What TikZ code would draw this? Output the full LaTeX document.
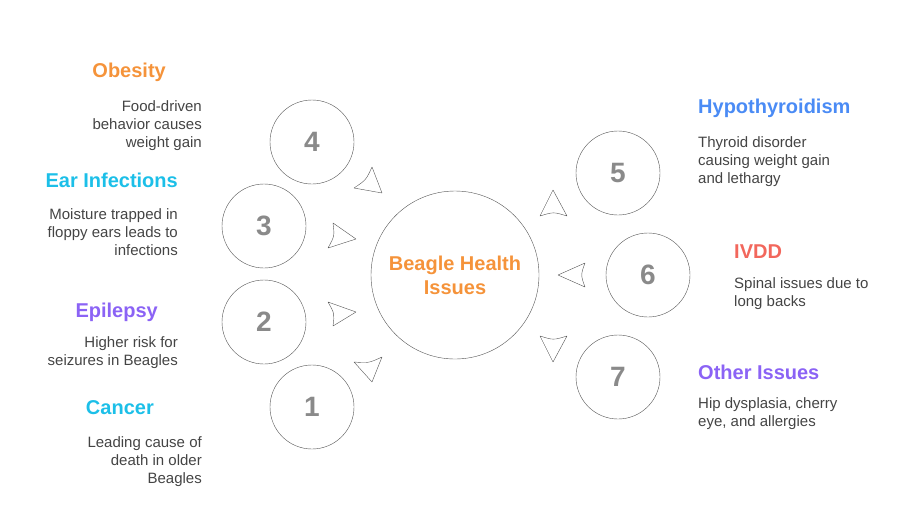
\documentclass[tikz,border=0pt]{standalone}
\usepackage{fontspec}
\setmainfont{Liberation Sans}
\usetikzlibrary{calc}
\definecolor{obesecolor}{HTML}{F5933A}
\definecolor{earcolor}{HTML}{1CBFE8}
\definecolor{epicolor}{HTML}{8B63F5}
\definecolor{thycolor}{HTML}{4A8BF5}
\definecolor{ivddcolor}{HTML}{F2675C}
\definecolor{linecolor}{HTML}{555555}
\definecolor{numcolor}{HTML}{8A8A8A}
\definecolor{bodycolor}{HTML}{444444}

\begin{document}
\begin{tikzpicture}[
    x=1pt, y=-1pt,
    hub/.style={draw=linecolor, circle, minimum size=168pt, inner sep=0pt, align=center, font=\bfseries\fontsize{20}{24}\selectfont, text=obesecolor},
    numbox/.style={draw=linecolor, circle, minimum size=84pt, inner sep=0pt, font=\bfseries\fontsize{28}{30}\selectfont, text=numcolor},
    title/.style={font=\bfseries\fontsize{20}{22}\selectfont, inner sep=0pt},
    body/.style={font=\fontsize{15}{18}\selectfont, text=bodycolor, inner sep=0pt},
    tip/.style={draw=linecolor, line join=round}
]
    \useasboundingbox (0,0) rectangle (912,528);
    \node[hub] (hub) at (455,275) {Beagle Health\\Issues};

    \node[numbox] (n4) at (312,142) {4};
    \node[numbox] (n3) at (264,226) {3};
    \node[numbox] (n2) at (264,322) {2};
    \node[numbox] (n1) at (312,407) {1};
    \node[numbox] (n5) at (618,173) {5};
    \node[numbox] (n6) at (648,275) {6};
    \node[numbox] (n7) at (618,377) {7};

    % arrow heads: base corner, base corner, tip
    \foreach \ax/\ay/\bx/\by/\tx/\ty in {354/188/372/167/382/193, 333/223/328/248/356/239,
        328/302/333/326/356/312, 354/362/382/357/372/382,
        540/216/567/216/553/190, 585/263/585/287/558/275, 540/336/567/336/553/362}
        \draw[tip] (\ax,\ay) .. controls ($($(\ax,\ay)!0.5!(\bx,\by)$)!0.16!(\tx,\ty)$) .. (\bx,\by) -- (\tx,\ty) -- cycle;

    % left texts
    \node[title, text=obesecolor, anchor=east] (tob) at (166,72) {Obesity};
    \node[body, anchor=north east, align=right] (bob) at (202,100) {Food-driven\\behavior causes\\weight gain};
    \node[title, text=earcolor, anchor=east] (tear) at (178,180) {Ear Infections};
    \node[body, anchor=north east, align=right] (bear) at (178,208) {Moisture trapped in\\floppy ears leads to\\infections};
    \node[title, text=epicolor, anchor=east] (tepi) at (158,312) {Epilepsy};
    \node[body, anchor=north east, align=right] (bepi) at (178,336) {Higher risk for\\seizures in Beagles};
    \node[title, text=earcolor, anchor=east] (tcan) at (154,408) {Cancer};
    \node[body, anchor=north east, align=right] (bcan) at (202,436) {Leading cause of\\death in older\\Beagles};

    % right texts
    \node[title, text=thycolor, anchor=west] (tthy) at (698,108) {Hypothyroidism};
    \node[body, anchor=north west, align=left] (bthy) at (698,136) {Thyroid disorder\\causing weight gain\\and lethargy};
    \node[title, text=ivddcolor, anchor=west] (tivdd) at (734,252) {IVDD};
    \node[body, anchor=north west, align=left] (bivdd) at (734,277) {Spinal issues due to\\long backs};
    \node[title, text=epicolor, anchor=west] (toth) at (698,372) {Other Issues};
    \node[body, anchor=north west, align=left] (both) at (698,397) {Hip dysplasia, cherry\\eye, and allergies};
\end{tikzpicture}
\end{document}
